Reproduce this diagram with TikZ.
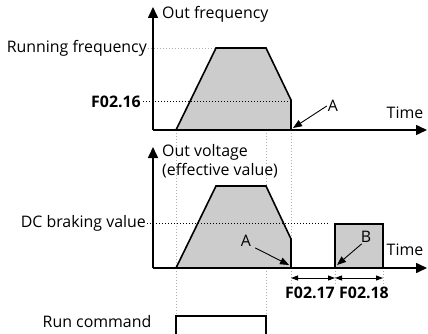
\documentclass[tikz,border=0pt]{standalone}
\usepackage{fontspec}
\setmainfont{Open Sans}
\usetikzlibrary{arrows.meta,positioning}
\definecolor{fillgray}{RGB}{204,204,204}
\definecolor{guidegray}{RGB}{175,175,175}

\begin{document}
\begin{tikzpicture}[
    x=1pt, y=-1pt,
    axis/.style={-{Triangle[length=11pt,width=10pt]}, line width=1.6pt},
    wave/.style={draw=black, fill=fillgray, line width=1.6pt},
    guide/.style={draw=guidegray, dash pattern=on 1pt off 2pt, line width=0.8pt},
    level/.style={draw=black, dash pattern=on 1.4pt off 1.6pt, line width=1pt},
    lbl/.style={font=\fontsize{15.9}{19.5}\selectfont, inner sep=1pt, align=left},
    param/.style={font=\fontsize{15.9}{19.5}\selectfont\bfseries, inner sep=1pt},
    pointer/.style={-{Triangle[length=9pt,width=7pt]}, line width=0.9pt},
    span/.style={{Triangle[length=7pt,width=5pt]}-{Triangle[length=7pt,width=5pt]}, line width=0.9pt}
]
\useasboundingbox (0,0) rectangle (428,334);

% axes corners
\coordinate (o1) at (153,130);
\coordinate (ytop1) at (153,7);
\coordinate (xend1) at (427,130);
\coordinate (o2) at (153,268);
\coordinate (ytop2) at (153,147);
\coordinate (xend2) at (427,268);

% timing guides
\draw[guide] (176,130) -- (176,316);
\draw[guide] (266,130) -- (266,316);
\draw[guide] (291,130) -- (291,285);
\draw[guide] (335,268) -- (335,285);
\draw[guide] (383,268) -- (383,285);
\draw[guide] (148,48) -- (216,48);

% frequency and voltage curves
\draw[wave] (176,130) -- (216,48) -- (266,48) -- (291,100) -- (291,130);
\draw[wave] (176,268) -- (216,186) -- (266,186) -- (291,239) -- (291,268);
\draw[wave] (335,268) rectangle (383,224);

% levels
\draw[level] (143,102) -- (291,102);
\draw[level] (147,223) -- (329,223);

\draw[axis] (o1) -- (ytop1);
\draw[axis] (o1) -- (xend1);
\draw[axis] (o2) -- (ytop2);
\draw[axis] (o2) -- (xend2);

% run command
\draw[line width=1.6pt] (176,340) |- (266,316) -- (266,340);

% labels
\node[lbl, right=8pt of ytop1, yshift=-7pt] (outfreq) {Out frequency};
\node[lbl, anchor=east] (runfreq) at (148,48) {Running frequency};
\node[param, anchor=east] (f0216) at (142,102) {F02.16};
\node[lbl, anchor=north west, inner sep=0pt] (outvolt) at (162,144) {Out voltage\\(effective value)};
\node[lbl, anchor=east] (dcbrake) at (147,223) {DC braking value};
\node[lbl] (time1) at (405,113) {Time};
\node[lbl] (time2) at (405,250) {Time};
\node[lbl] (runcmd) at (97,322) {Run command};

% pointers
\node[lbl] (a1) at (333,106) {A};
\node[lbl] (a2) at (246,241) {A};
\node[lbl] (b1) at (366,237) {B};
\coordinate (a1tip) at (293,128);
\coordinate (a2tip) at (289,265);
\coordinate (b1tip) at (337,265);
\draw[pointer] (a1.west) -- (a1tip);
\draw[pointer] (a2.south east) ++(3,0) -- (a2tip);
\draw[pointer] (b1.south west) ++(2,0) -- (b1tip);

% braking spans
\coordinate (s0) at (291,278);
\coordinate (s1) at (335,278);
\coordinate (s2) at (383,278);
\draw[span] (s0) -- (s1);
\draw[span] (s1) -- (s2);
\node[param] (f0217) at (310,293) {F02.17};
\node[param] (f0218) at (364,293) {F02.18};

\end{tikzpicture}
\end{document}
